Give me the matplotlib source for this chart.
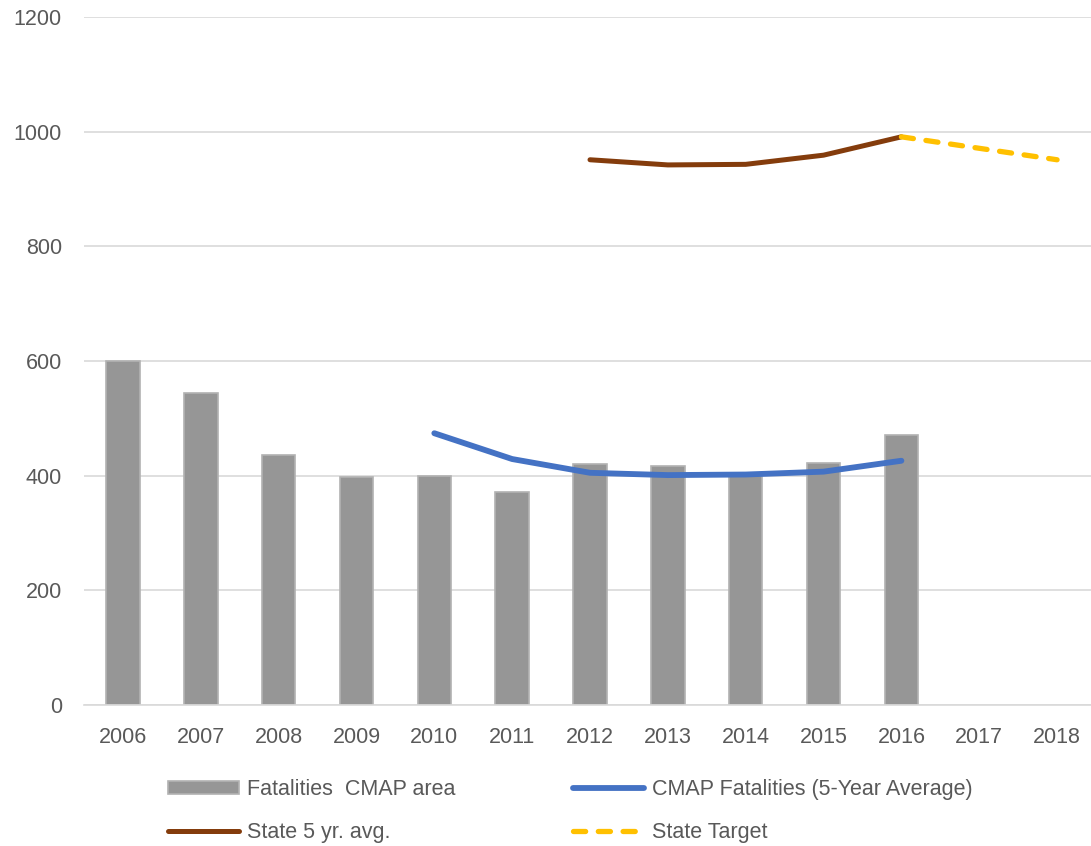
import matplotlib
matplotlib.use("Agg")
import matplotlib.pyplot as plt
import numpy as np

plt.rcParams["font.family"] = ["Liberation Sans", "DejaVu Sans"]

# data
years = ["2006", "2007", "2008", "2009", "2010", "2011", "2012",
         "2013", "2014", "2015", "2016", "2017", "2018"]
fatalities = [600, 545, 436, 397, 400, 372, 420, 417, 400, 422, 471]
cmap_avg_years = ["2010", "2011", "2012", "2013", "2014", "2015", "2016"]
cmap_avg = [474, 429, 405, 401, 402, 407, 426]
state_avg_years = ["2012", "2013", "2014", "2015", "2016"]
state_avg = [951, 942, 943, 959, 991]
target_years = ["2016", "2017", "2018"]
state_target = [991, 971, 951]

text_color = "#595959"
grid_color = "#d9d9d9"
fs = 15.5

pos = {y: i for i, y in enumerate(years)}

fig = plt.figure(figsize=(10.91, 8.46), dpi=100)
ax = fig.add_axes([84 / 1091, 1 - 705 / 846, (1096 - 84) / 1091, (705 - 17) / 846])

bars = ax.bar([pos[y] for y in years[:len(fatalities)]], fatalities, width=0.43,
              color="#969696", edgecolor="#b2b2b2", linewidth=1.2, zorder=2,
              label="Fatalities  CMAP area")
blue, = ax.plot([pos[y] for y in cmap_avg_years], cmap_avg, color="#4472C4",
                lw=4.2, solid_capstyle="round", zorder=3,
                label="CMAP Fatalities (5-Year Average)")
brown, = ax.plot([pos[y] for y in state_avg_years], state_avg, color="#843C0C",
                 lw=3.6, solid_capstyle="round", zorder=3,
                 label="State 5 yr. avg.")
yellow, = ax.plot([pos[y] for y in target_years], state_target, color="#FFC000",
                  lw=3.8, linestyle=(0, (2.3, 2.4)), dash_capstyle="round",
                  zorder=3, label="State Target")

ax.set_xlim(-0.5, len(years) - 0.5)
ax.set_ylim(0, 1200)
ax.set_yticks(np.arange(0, 1201, 200))
ax.set_xticks(range(len(years)))
ax.set_xticklabels(years)
ax.yaxis.grid(True, color=grid_color, lw=1.2)
ax.set_axisbelow(True)
for s in ["top", "right", "left"]:
    ax.spines[s].set_visible(False)
ax.spines["bottom"].set_color(grid_color)
ax.spines["bottom"].set_linewidth(1.2)
ax.tick_params(axis="y", length=0, pad=16, labelsize=fs, labelcolor=text_color)
ax.tick_params(axis="x", length=0, pad=16, labelsize=fs, labelcolor=text_color)

leg_kw = dict(loc="center left", frameon=False, fontsize=fs, borderpad=0,
              borderaxespad=0, handlelength=3.3, handletextpad=0.35,
              labelspacing=1.0, handleheight=0.6, labelcolor=text_color)
fig.legend([bars, brown], ["Fatalities  CMAP area", "State 5 yr. avg."],
           bbox_to_anchor=(168 / 1091, 1 - 811 / 846), **leg_kw)
fig.legend([blue, yellow], ["CMAP Fatalities (5-Year Average)", "State Target"],
           bbox_to_anchor=(573 / 1091, 1 - 811 / 846), **leg_kw)

fig.savefig("out.png", dpi=100)
